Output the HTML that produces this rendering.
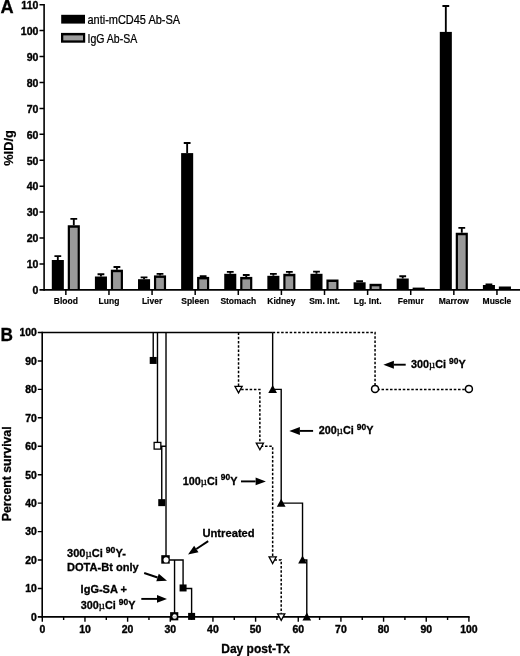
<!DOCTYPE html>
<html><head><meta charset="utf-8"><title>Figure</title>
<style>html,body{margin:0;padding:0;background:#fff;}svg{display:block;}text{fill:#000;}</style>
</head><body>
<svg width="520" height="656" viewBox="0 0 520 656" shape-rendering="auto"><g id="panelA">
<path d="M57.82 260.00V256.10M54.42 256.10H61.22" stroke="#000" stroke-width="1.85" fill="none"/>
<rect x="51.80" y="260.00" width="12.05" height="29.90" fill="#000"/>
<path d="M73.80 225.25V218.80M70.40 218.80H77.20" stroke="#000" stroke-width="1.85" fill="none"/>
<rect x="67.75" y="225.25" width="12.10" height="64.65" fill="#000"/>
<rect x="69.95" y="227.75" width="7.70" height="61.45" fill="#999"/>
<path d="M100.94 276.50V274.20M97.53 274.20H104.34" stroke="#000" stroke-width="1.85" fill="none"/>
<rect x="94.91" y="276.50" width="12.05" height="13.40" fill="#000"/>
<path d="M116.91 269.70V267.00M113.51 267.00H120.31" stroke="#000" stroke-width="1.85" fill="none"/>
<rect x="110.86" y="269.70" width="12.10" height="20.20" fill="#000"/>
<rect x="113.06" y="272.20" width="7.70" height="17.00" fill="#999"/>
<path d="M144.04 279.20V277.30M140.64 277.30H147.44" stroke="#000" stroke-width="1.85" fill="none"/>
<rect x="138.02" y="279.20" width="12.05" height="10.70" fill="#000"/>
<path d="M160.02 275.40V273.80M156.62 273.80H163.42" stroke="#000" stroke-width="1.85" fill="none"/>
<rect x="153.97" y="275.40" width="12.10" height="14.50" fill="#000"/>
<rect x="156.17" y="277.90" width="7.70" height="11.30" fill="#999"/>
<path d="M187.15 153.10V143.00M183.75 143.00H190.55" stroke="#000" stroke-width="1.85" fill="none"/>
<rect x="181.13" y="153.10" width="12.05" height="136.80" fill="#000"/>
<path d="M203.13 276.90V276.10M199.73 276.10H206.53" stroke="#000" stroke-width="1.85" fill="none"/>
<rect x="197.08" y="276.90" width="12.10" height="13.00" fill="#000"/>
<rect x="199.28" y="279.40" width="7.70" height="9.80" fill="#999"/>
<path d="M230.26 273.80V271.90M226.86 271.90H233.66" stroke="#000" stroke-width="1.85" fill="none"/>
<rect x="224.24" y="273.80" width="12.05" height="16.10" fill="#000"/>
<path d="M246.24 276.90V275.00M242.84 275.00H249.64" stroke="#000" stroke-width="1.85" fill="none"/>
<rect x="240.19" y="276.90" width="12.10" height="13.00" fill="#000"/>
<rect x="242.39" y="279.40" width="7.70" height="9.80" fill="#999"/>
<path d="M273.38 275.80V273.90M269.98 273.90H276.77" stroke="#000" stroke-width="1.85" fill="none"/>
<rect x="267.35" y="275.80" width="12.05" height="14.10" fill="#000"/>
<path d="M289.35 273.80V271.90M285.95 271.90H292.75" stroke="#000" stroke-width="1.85" fill="none"/>
<rect x="283.30" y="273.80" width="12.10" height="16.10" fill="#000"/>
<rect x="285.50" y="276.30" width="7.70" height="12.90" fill="#999"/>
<path d="M316.49 273.80V271.60M313.09 271.60H319.88" stroke="#000" stroke-width="1.85" fill="none"/>
<rect x="310.46" y="273.80" width="12.05" height="16.10" fill="#000"/>
<rect x="326.41" y="279.50" width="12.10" height="10.40" fill="#000"/>
<rect x="328.61" y="282.00" width="7.70" height="7.20" fill="#999"/>
<path d="M359.60 282.30V281.20M356.20 281.20H363.00" stroke="#000" stroke-width="1.85" fill="none"/>
<rect x="353.57" y="282.30" width="12.05" height="7.60" fill="#000"/>
<rect x="369.52" y="283.80" width="12.10" height="6.10" fill="#000"/>
<rect x="371.72" y="286.30" width="7.70" height="2.90" fill="#999"/>
<path d="M402.71 278.50V276.20M399.31 276.20H406.11" stroke="#000" stroke-width="1.85" fill="none"/>
<rect x="396.68" y="278.50" width="12.05" height="11.40" fill="#000"/>
<rect x="412.63" y="287.60" width="12.10" height="2.30" fill="#000"/>
<path d="M445.82 31.90V6.00M442.42 6.00H449.22" stroke="#000" stroke-width="1.85" fill="none"/>
<rect x="439.79" y="31.90" width="12.05" height="258.00" fill="#000"/>
<path d="M461.79 232.75V227.90M458.39 227.90H465.19" stroke="#000" stroke-width="1.85" fill="none"/>
<rect x="455.74" y="232.75" width="12.10" height="57.15" fill="#000"/>
<rect x="457.94" y="235.25" width="7.70" height="53.95" fill="#999"/>
<path d="M488.93 285.00V284.40M485.53 284.40H492.33" stroke="#000" stroke-width="1.85" fill="none"/>
<rect x="482.90" y="285.00" width="12.05" height="4.90" fill="#000"/>
<rect x="498.85" y="286.50" width="12.10" height="3.40" fill="#000"/>
<rect x="501.05" y="289.00" width="7.70" height="0.20" fill="#999"/>
<path d="M44.1 3.92V290.65" stroke="#000" stroke-width="1.6" fill="none"/>
<path d="M39.5 289.9H520" stroke="#000" stroke-width="1.6" fill="none"/>
<path d="M39.50 263.97H44.10M39.50 238.04H44.10M39.50 212.11H44.10M39.50 186.18H44.10M39.50 160.25H44.10M39.50 134.32H44.10M39.50 108.39H44.10M39.50 82.46H44.10M39.50 56.53H44.10M39.50 30.60H44.10M39.50 4.67H44.10" stroke="#000" stroke-width="1.5" fill="none"/>
<path d="M65.85 289.90V294.90M108.96 289.90V294.90M152.07 289.90V294.90M195.18 289.90V294.90M238.29 289.90V294.90M281.40 289.90V294.90M324.51 289.90V294.90M367.62 289.90V294.90M410.73 289.90V294.90M453.84 289.90V294.90M496.95 289.90V294.90" stroke="#000" stroke-width="1.5" fill="none"/>
<text transform="translate(38.40 294.20) scale(0.895 1)" font-family="Liberation Sans, Arial, sans-serif" font-size="11.8" font-weight="bold" stroke="#000" stroke-width="0.4" text-anchor="end">0</text>
<text transform="translate(38.40 268.27) scale(0.895 1)" font-family="Liberation Sans, Arial, sans-serif" font-size="11.8" font-weight="bold" stroke="#000" stroke-width="0.4" text-anchor="end">10</text>
<text transform="translate(38.40 242.34) scale(0.895 1)" font-family="Liberation Sans, Arial, sans-serif" font-size="11.8" font-weight="bold" stroke="#000" stroke-width="0.4" text-anchor="end">20</text>
<text transform="translate(38.40 216.41) scale(0.895 1)" font-family="Liberation Sans, Arial, sans-serif" font-size="11.8" font-weight="bold" stroke="#000" stroke-width="0.4" text-anchor="end">30</text>
<text transform="translate(38.40 190.48) scale(0.895 1)" font-family="Liberation Sans, Arial, sans-serif" font-size="11.8" font-weight="bold" stroke="#000" stroke-width="0.4" text-anchor="end">40</text>
<text transform="translate(38.40 164.55) scale(0.895 1)" font-family="Liberation Sans, Arial, sans-serif" font-size="11.8" font-weight="bold" stroke="#000" stroke-width="0.4" text-anchor="end">50</text>
<text transform="translate(38.40 138.62) scale(0.895 1)" font-family="Liberation Sans, Arial, sans-serif" font-size="11.8" font-weight="bold" stroke="#000" stroke-width="0.4" text-anchor="end">60</text>
<text transform="translate(38.40 112.69) scale(0.895 1)" font-family="Liberation Sans, Arial, sans-serif" font-size="11.8" font-weight="bold" stroke="#000" stroke-width="0.4" text-anchor="end">70</text>
<text transform="translate(38.40 86.76) scale(0.895 1)" font-family="Liberation Sans, Arial, sans-serif" font-size="11.8" font-weight="bold" stroke="#000" stroke-width="0.4" text-anchor="end">80</text>
<text transform="translate(38.40 60.83) scale(0.895 1)" font-family="Liberation Sans, Arial, sans-serif" font-size="11.8" font-weight="bold" stroke="#000" stroke-width="0.4" text-anchor="end">90</text>
<text transform="translate(38.40 34.90) scale(0.895 1)" font-family="Liberation Sans, Arial, sans-serif" font-size="11.8" font-weight="bold" stroke="#000" stroke-width="0.4" text-anchor="end">100</text>
<text transform="translate(38.40 8.97) scale(0.895 1)" font-family="Liberation Sans, Arial, sans-serif" font-size="11.8" font-weight="bold" stroke="#000" stroke-width="0.4" text-anchor="end">110</text>
<text transform="translate(65.85 303.80) scale(0.885 1)" font-family="Liberation Sans, Arial, sans-serif" font-size="9.6" font-weight="bold" stroke="#000" stroke-width="0.2" text-anchor="middle">Blood</text>
<text transform="translate(108.96 303.80) scale(0.885 1)" font-family="Liberation Sans, Arial, sans-serif" font-size="9.6" font-weight="bold" stroke="#000" stroke-width="0.2" text-anchor="middle">Lung</text>
<text transform="translate(152.07 303.80) scale(0.885 1)" font-family="Liberation Sans, Arial, sans-serif" font-size="9.6" font-weight="bold" stroke="#000" stroke-width="0.2" text-anchor="middle">Liver</text>
<text transform="translate(195.18 303.80) scale(0.885 1)" font-family="Liberation Sans, Arial, sans-serif" font-size="9.6" font-weight="bold" stroke="#000" stroke-width="0.2" text-anchor="middle">Spleen</text>
<text transform="translate(238.29 303.80) scale(0.885 1)" font-family="Liberation Sans, Arial, sans-serif" font-size="9.6" font-weight="bold" stroke="#000" stroke-width="0.2" text-anchor="middle">Stomach</text>
<text transform="translate(281.40 303.80) scale(0.885 1)" font-family="Liberation Sans, Arial, sans-serif" font-size="9.6" font-weight="bold" stroke="#000" stroke-width="0.2" text-anchor="middle">Kidney</text>
<text transform="translate(324.51 303.80) scale(0.885 1)" font-family="Liberation Sans, Arial, sans-serif" font-size="9.6" font-weight="bold" stroke="#000" stroke-width="0.2" text-anchor="middle">Sm. Int.</text>
<text transform="translate(367.62 303.80) scale(0.885 1)" font-family="Liberation Sans, Arial, sans-serif" font-size="9.6" font-weight="bold" stroke="#000" stroke-width="0.2" text-anchor="middle">Lg. Int.</text>
<text transform="translate(410.73 303.80) scale(0.885 1)" font-family="Liberation Sans, Arial, sans-serif" font-size="9.6" font-weight="bold" stroke="#000" stroke-width="0.2" text-anchor="middle">Femur</text>
<text transform="translate(453.84 303.80) scale(0.885 1)" font-family="Liberation Sans, Arial, sans-serif" font-size="9.6" font-weight="bold" stroke="#000" stroke-width="0.2" text-anchor="middle">Marrow</text>
<text transform="translate(496.95 303.80) scale(0.885 1)" font-family="Liberation Sans, Arial, sans-serif" font-size="9.6" font-weight="bold" stroke="#000" stroke-width="0.2" text-anchor="middle">Muscle</text>
<text transform="translate(12.50 165.80) rotate(-90) scale(1.02 1)" font-family="Liberation Sans, Arial, sans-serif" font-size="12.6" font-weight="bold" stroke="#000" stroke-width="0.2" text-anchor="start">%ID/g</text>
<text transform="translate(0.40 13.00) scale(1.0 1)" font-family="Liberation Sans, Arial, sans-serif" font-size="18.2" font-weight="bold" stroke="#000" stroke-width="0.3" text-anchor="start">A</text>
<rect x="61.2" y="14.8" width="23.8" height="8.8" fill="#000"/>
<rect x="61.0" y="32.9" width="24.2" height="9.8" fill="#000"/>
<rect x="63.3" y="35.4" width="19.7" height="5.0" fill="#9c9c9c"/>
<text transform="translate(87.50 23.60) scale(0.885 1)" font-family="Liberation Sans, Arial, sans-serif" font-size="12.4" stroke="#000" stroke-width="0.25" text-anchor="start" id="lg1">anti-mCD45 Ab-SA</text>
<text transform="translate(87.50 42.50) scale(0.85 1)" font-family="Liberation Sans, Arial, sans-serif" font-size="12.4" stroke="#000" stroke-width="0.25" text-anchor="start" id="lg2">IgG Ab-SA</text>
</g>
<g id="panelB">
<path d="M42.2 332.50H272.66" stroke="#000" stroke-width="1.4" fill="none"/>
<path d="M272.66 332.50H375.05V389.38H468.90" stroke="#000" stroke-width="1.5" fill="none" stroke-dasharray="2.5 1.75"/>
<path d="M238.54 332.50V389.38H259.87V446.26H272.66V560.02H281.20V616.90" stroke="#000" stroke-width="1.5" fill="none" stroke-dasharray="2.5 1.75"/>
<path d="M272.66 332.50V389.38H281.20V503.14H302.53V560.02H306.79V616.90" stroke="#000" stroke-width="1.4" fill="none"/>
<path d="M153.22 332.50V360.94" stroke="#000" stroke-width="1.4" fill="none"/>
<path d="M157.48 332.50V446.26H166.01M161.75 446.26V503.14" stroke="#000" stroke-width="1.4" fill="none"/>
<path d="M166.01 332.50V560.02H183.08V588.46H191.61V616.90" stroke="#000" stroke-width="1.4" fill="none"/>
<path d="M174.55 560.02V616.90" stroke="#000" stroke-width="1.4" fill="none"/>
<path d="M42.2 331.80V617.65" stroke="#000" stroke-width="1.6" fill="none"/>
<path d="M37.800000000000004 616.9H469.65" stroke="#000" stroke-width="1.6" fill="none"/>
<path d="M37.80 588.46H42.20M37.80 560.02H42.20M37.80 531.58H42.20M37.80 503.14H42.20M37.80 474.70H42.20M37.80 446.26H42.20M37.80 417.82H42.20M37.80 389.38H42.20M37.80 360.94H42.20M37.80 332.50H42.20M42.30 616.90V621.80M84.96 616.90V621.80M127.62 616.90V621.80M170.28 616.90V621.80M212.94 616.90V621.80M255.60 616.90V621.80M298.26 616.90V621.80M340.92 616.90V621.80M383.58 616.90V621.80M426.24 616.90V621.80M468.90 616.90V621.80M63.63 616.90V620.10M106.29 616.90V620.10M148.95 616.90V620.10M191.61 616.90V620.10M234.27 616.90V620.10M276.93 616.90V620.10M319.59 616.90V620.10M362.25 616.90V620.10M404.91 616.90V620.10M447.57 616.90V620.10" stroke="#000" stroke-width="1.4" fill="none"/>
<rect x="149.72" y="356.94" width="7.0" height="7.0" fill="#000"/>
<rect x="154.13" y="442.41" width="6.7" height="6.7" fill="#fff" stroke="#000" stroke-width="1.3"/>
<rect x="158.25" y="499.14" width="7.0" height="7.0" fill="#000"/>
<rect x="161.26" y="555.17" width="8.5" height="8.5" fill="#000"/>
<circle cx="166.06" cy="559.92" r="2.55" fill="#fff"/>
<rect x="170.10" y="612.15" width="8.2" height="8.2" fill="#000"/>
<circle cx="174.65" cy="616.50" r="2.2" fill="#fff"/>
<path d="M172.35 616.90h4.6" stroke="#888" stroke-width="0.7"/>
<rect x="179.58" y="584.46" width="7.0" height="7.0" fill="#000"/>
<rect x="188.11" y="612.90" width="7.0" height="7.0" fill="#000"/>
<path d="M238.54 392.88L242.14 386.28H234.94Z" fill="#fff" stroke="#000" stroke-width="1.3"/>
<path d="M259.87 449.76L263.47 443.16H256.27Z" fill="#fff" stroke="#000" stroke-width="1.3"/>
<path d="M272.66 563.52L276.26 556.92H269.06Z" fill="#fff" stroke="#000" stroke-width="1.3"/>
<path d="M281.20 620.40L284.80 613.80H277.60Z" fill="#fff" stroke="#000" stroke-width="1.3"/>
<path d="M272.66 384.98L277.01 392.98H268.31Z" fill="#000"/>
<path d="M281.20 498.74L285.55 506.74H276.85Z" fill="#000"/>
<path d="M302.53 555.62L306.88 563.62H298.18Z" fill="#000"/>
<path d="M306.79 612.50L311.14 620.50H302.44Z" fill="#000"/>
<circle cx="375.05" cy="388.88" r="3.5" fill="#fff" stroke="#000" stroke-width="1.5"/>
<circle cx="468.90" cy="388.88" r="3.5" fill="#fff" stroke="#000" stroke-width="1.5"/>
<text transform="translate(36.70 620.70) scale(0.96 1)" font-family="Liberation Sans, Arial, sans-serif" font-size="10.8" font-weight="bold" stroke="#000" stroke-width="0.4" text-anchor="end">0</text>
<text transform="translate(42.30 633.00) scale(0.97 1)" font-family="Liberation Sans, Arial, sans-serif" font-size="10.8" font-weight="bold" stroke="#000" stroke-width="0.4" text-anchor="middle">0</text>
<text transform="translate(36.70 592.26) scale(0.96 1)" font-family="Liberation Sans, Arial, sans-serif" font-size="10.8" font-weight="bold" stroke="#000" stroke-width="0.4" text-anchor="end">10</text>
<text transform="translate(84.96 633.00) scale(0.97 1)" font-family="Liberation Sans, Arial, sans-serif" font-size="10.8" font-weight="bold" stroke="#000" stroke-width="0.4" text-anchor="middle">10</text>
<text transform="translate(36.70 563.82) scale(0.96 1)" font-family="Liberation Sans, Arial, sans-serif" font-size="10.8" font-weight="bold" stroke="#000" stroke-width="0.4" text-anchor="end">20</text>
<text transform="translate(127.62 633.00) scale(0.97 1)" font-family="Liberation Sans, Arial, sans-serif" font-size="10.8" font-weight="bold" stroke="#000" stroke-width="0.4" text-anchor="middle">20</text>
<text transform="translate(36.70 535.38) scale(0.96 1)" font-family="Liberation Sans, Arial, sans-serif" font-size="10.8" font-weight="bold" stroke="#000" stroke-width="0.4" text-anchor="end">30</text>
<text transform="translate(170.28 633.00) scale(0.97 1)" font-family="Liberation Sans, Arial, sans-serif" font-size="10.8" font-weight="bold" stroke="#000" stroke-width="0.4" text-anchor="middle">30</text>
<text transform="translate(36.70 506.94) scale(0.96 1)" font-family="Liberation Sans, Arial, sans-serif" font-size="10.8" font-weight="bold" stroke="#000" stroke-width="0.4" text-anchor="end">40</text>
<text transform="translate(212.94 633.00) scale(0.97 1)" font-family="Liberation Sans, Arial, sans-serif" font-size="10.8" font-weight="bold" stroke="#000" stroke-width="0.4" text-anchor="middle">40</text>
<text transform="translate(36.70 478.50) scale(0.96 1)" font-family="Liberation Sans, Arial, sans-serif" font-size="10.8" font-weight="bold" stroke="#000" stroke-width="0.4" text-anchor="end">50</text>
<text transform="translate(255.60 633.00) scale(0.97 1)" font-family="Liberation Sans, Arial, sans-serif" font-size="10.8" font-weight="bold" stroke="#000" stroke-width="0.4" text-anchor="middle">50</text>
<text transform="translate(36.70 450.06) scale(0.96 1)" font-family="Liberation Sans, Arial, sans-serif" font-size="10.8" font-weight="bold" stroke="#000" stroke-width="0.4" text-anchor="end">60</text>
<text transform="translate(298.26 633.00) scale(0.97 1)" font-family="Liberation Sans, Arial, sans-serif" font-size="10.8" font-weight="bold" stroke="#000" stroke-width="0.4" text-anchor="middle">60</text>
<text transform="translate(36.70 421.62) scale(0.96 1)" font-family="Liberation Sans, Arial, sans-serif" font-size="10.8" font-weight="bold" stroke="#000" stroke-width="0.4" text-anchor="end">70</text>
<text transform="translate(340.92 633.00) scale(0.97 1)" font-family="Liberation Sans, Arial, sans-serif" font-size="10.8" font-weight="bold" stroke="#000" stroke-width="0.4" text-anchor="middle">70</text>
<text transform="translate(36.70 393.18) scale(0.96 1)" font-family="Liberation Sans, Arial, sans-serif" font-size="10.8" font-weight="bold" stroke="#000" stroke-width="0.4" text-anchor="end">80</text>
<text transform="translate(383.58 633.00) scale(0.97 1)" font-family="Liberation Sans, Arial, sans-serif" font-size="10.8" font-weight="bold" stroke="#000" stroke-width="0.4" text-anchor="middle">80</text>
<text transform="translate(36.70 364.74) scale(0.96 1)" font-family="Liberation Sans, Arial, sans-serif" font-size="10.8" font-weight="bold" stroke="#000" stroke-width="0.4" text-anchor="end">90</text>
<text transform="translate(426.24 633.00) scale(0.97 1)" font-family="Liberation Sans, Arial, sans-serif" font-size="10.8" font-weight="bold" stroke="#000" stroke-width="0.4" text-anchor="middle">90</text>
<text transform="translate(36.70 336.30) scale(0.96 1)" font-family="Liberation Sans, Arial, sans-serif" font-size="10.8" font-weight="bold" stroke="#000" stroke-width="0.4" text-anchor="end">100</text>
<text transform="translate(468.90 633.00) scale(0.97 1)" font-family="Liberation Sans, Arial, sans-serif" font-size="10.8" font-weight="bold" stroke="#000" stroke-width="0.4" text-anchor="middle">100</text>
<text transform="translate(255.60 653.00) scale(0.985 1)" font-family="Liberation Sans, Arial, sans-serif" font-size="12.2" font-weight="bold" stroke="#000" stroke-width="0.3" text-anchor="middle" id="xlabB">Day post-Tx</text>
<text transform="translate(11.40 473.80) rotate(-90) scale(0.983 1)" font-family="Liberation Sans, Arial, sans-serif" font-size="12.5" font-weight="bold" stroke="#000" stroke-width="0.3" text-anchor="middle" id="ylabB">Percent survival</text>
<text transform="translate(0.40 341.00) scale(0.98 1)" font-family="Liberation Sans, Arial, sans-serif" font-size="17.6" font-weight="bold" stroke="#000" stroke-width="0.3" text-anchor="start">B</text>
<text transform="translate(67.00 557.20) scale(1.005 1)" font-family="Liberation Sans, Arial, sans-serif" font-size="11" font-weight="bold" stroke="#000" stroke-width="0.3" text-anchor="start" id="t1">300<tspan font-family="Liberation Serif, serif" font-weight="normal" font-size="10.8">µ</tspan>Ci <tspan font-size="8.6" dy="-4.6">90</tspan><tspan dy="4.6">Y-</tspan></text>
<text transform="translate(67.00 570.70) scale(1.008 1)" font-family="Liberation Sans, Arial, sans-serif" font-size="11" font-weight="bold" stroke="#000" stroke-width="0.3" text-anchor="start" id="t2">DOTA-Bt only</text>
<text transform="translate(80.60 592.80) scale(1.0 1)" font-family="Liberation Sans, Arial, sans-serif" font-size="11" font-weight="bold" stroke="#000" stroke-width="0.3" text-anchor="start" id="t3">IgG-SA +</text>
<text transform="translate(80.80 609.20) scale(0.985 1)" font-family="Liberation Sans, Arial, sans-serif" font-size="11" font-weight="bold" stroke="#000" stroke-width="0.3" text-anchor="start" id="t4">300<tspan font-family="Liberation Serif, serif" font-weight="normal" font-size="10.8">µ</tspan>Ci <tspan font-size="8.6" dy="-4.6">90</tspan><tspan dy="4.6">Y</tspan></text>
<text transform="translate(202.40 536.80) scale(0.95 1)" font-family="Liberation Sans, Arial, sans-serif" font-size="11.8" font-weight="bold" stroke="#000" stroke-width="0.3" text-anchor="start" id="t5">Untreated</text>
<text transform="translate(182.80 484.90) scale(0.985 1)" font-family="Liberation Sans, Arial, sans-serif" font-size="11" font-weight="bold" stroke="#000" stroke-width="0.3" text-anchor="start" id="t6">100<tspan font-family="Liberation Serif, serif" font-weight="normal" font-size="10.8">µ</tspan>Ci <tspan font-size="8.6" dy="-4.6">90</tspan><tspan dy="4.6">Y</tspan></text>
<text transform="translate(318.70 434.30) scale(0.985 1)" font-family="Liberation Sans, Arial, sans-serif" font-size="11" font-weight="bold" stroke="#000" stroke-width="0.3" text-anchor="start" id="t7">200<tspan font-family="Liberation Serif, serif" font-weight="normal" font-size="10.8">µ</tspan>Ci <tspan font-size="8.6" dy="-4.6">90</tspan><tspan dy="4.6">Y</tspan></text>
<text transform="translate(411.00 368.10) scale(0.985 1)" font-family="Liberation Sans, Arial, sans-serif" font-size="11" font-weight="bold" stroke="#000" stroke-width="0.3" text-anchor="start" id="t8">300<tspan font-family="Liberation Serif, serif" font-weight="normal" font-size="10.8">µ</tspan>Ci <tspan font-size="8.6" dy="-4.6">90</tspan><tspan dy="4.6">Y</tspan></text>
<path d="M144.20 573.00L157.53 577.50" stroke="#000" stroke-width="1.9" fill="none"/><path d="M167.00 580.70L156.28 581.20L158.77 573.81Z" fill="#000"/>
<path d="M141.30 598.90L157.00 598.90" stroke="#000" stroke-width="1.9" fill="none"/><path d="M167.00 598.90L157.00 602.80L157.00 595.00Z" fill="#000"/>
<path d="M208.20 541.10L196.31 549.04" stroke="#000" stroke-width="1.9" fill="none"/><path d="M188.00 554.60L194.15 545.80L198.48 552.29Z" fill="#000"/>
<path d="M241.00 481.40L255.60 481.40" stroke="#000" stroke-width="1.9" fill="none"/><path d="M265.90 481.40L255.60 485.30L255.60 477.50Z" fill="#000"/>
<path d="M313.10 430.90L299.90 430.90" stroke="#000" stroke-width="1.9" fill="none"/><path d="M289.30 430.90L299.90 426.90L299.90 434.90Z" fill="#000"/>
<path d="M405.70 364.70L393.90 364.70" stroke="#000" stroke-width="1.9" fill="none"/><path d="M383.40 364.70L393.90 360.70L393.90 368.70Z" fill="#000"/>
</g></svg>
</body></html>
